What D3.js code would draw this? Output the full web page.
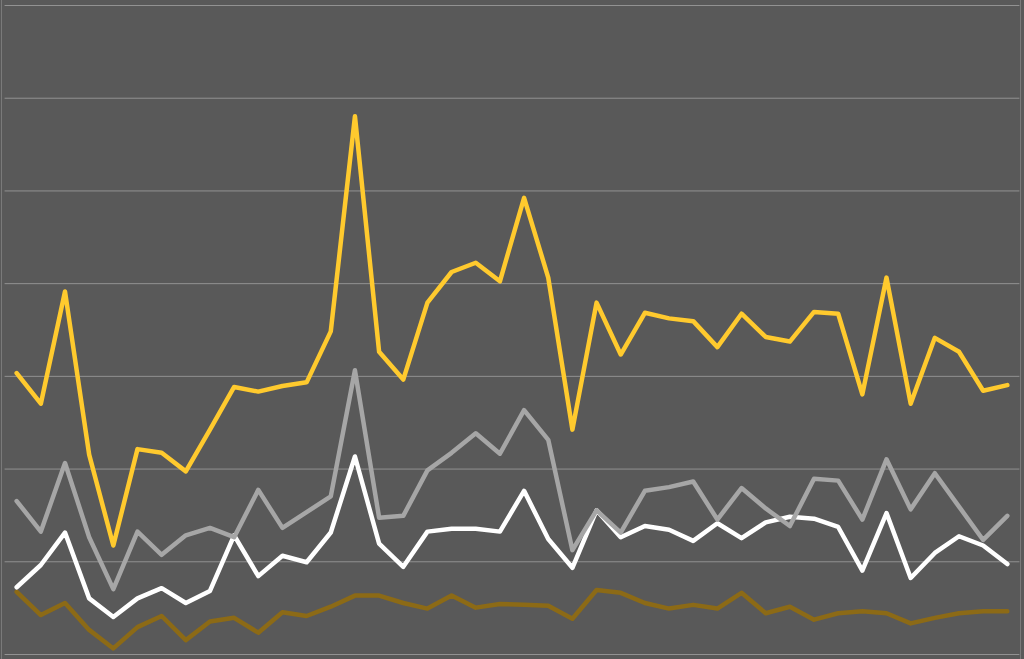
<!DOCTYPE html>
<html>
<head>
<meta charset="utf-8">
<script src="https://cdn.jsdelivr.net/npm/d3@7/dist/d3.min.js"></script>
<style>
  html, body { margin: 0; padding: 0; background: #595959; }
  svg { display: block; }
</style>
</head>
<body>
<div></div>
<script>
let svgWidth = 1024;
let svgHeight = 659;

// categories (no labels shown on the chart)
let categories = [1,2,3,4,5,6,7,8,9,10,11,12,13,14,15,16,17,18,19,20,21,
                  22,23,24,25,26,27,28,29,30,31,32,33,34,35,36,37,38,39,40,41,42];
let yTicks = [0,10,20,30,40,50,60,70];

let yellowValues = [30.3,27.0,39.1,21.5,11.7,22.1,21.7,19.7,24.2,28.8,28.3,28.9,29.3,34.8,58.0,
                    32.6,29.6,37.9,41.2,42.2,40.2,49.2,40.6,24.2,37.9,32.3,36.8,36.2,35.9,33.1,
                    36.7,34.2,33.7,36.9,36.7,28.0,40.6,27.0,34.1,32.6,28.4,29.0];
let grayValues   = [16.5,13.2,20.6,12.6,7.0,13.2,10.7,12.8,13.6,12.6,17.7,13.6,15.3,17.0,30.6,
                    14.7,14.9,19.8,21.7,23.8,21.6,26.3,23.1,11.2,15.5,13.1,17.6,18.0,18.6,14.5,
                    17.9,15.7,13.8,18.9,18.7,14.5,21.0,15.6,19.5,15.9,12.3,14.9];
let whiteValues  = [7.2,9.6,13.1,6.0,4.0,6.0,7.1,5.5,6.8,12.8,8.4,10.6,9.9,13.1,21.3,
                    11.9,9.4,13.2,13.5,13.5,13.2,17.6,12.4,9.3,15.5,12.6,13.8,13.4,12.2,14.1,
                    12.5,14.2,14.8,14.6,13.7,9.0,15.2,8.2,10.9,12.7,11.7,9.7];
let brownValues  = [6.7,4.2,5.5,2.6,0.6,2.9,4.1,1.5,3.5,3.9,2.3,4.5,4.1,5.1,6.3,
                    6.3,5.5,4.9,6.3,5.0,5.4,5.3,5.2,3.8,6.9,6.6,5.5,4.9,5.3,4.9,
                    6.6,4.4,5.1,3.7,4.4,4.6,4.4,3.3,3.9,4.4,4.6,4.6];

let series = [
  {values: brownValues,  color: "#8C6A16"},
  {values: whiteValues,  color: "#FFFFFF"},
  {values: grayValues,   color: "#A6A6A6"},
  {values: yellowValues, color: "#FFCA2E"}
];

let plotLeft = 4.6, plotRight = 1019.4, plotTop = 5, plotBottom = 654;

let svg = d3.select("body div")
    .append("svg")
    .attr("width", svgWidth)
    .attr("height", svgHeight);

svg.append("rect")
    .attr("width", svgWidth)
    .attr("height", svgHeight)
    .attr("fill", "#595959");

let x = d3.scalePoint()
    .domain(categories)
    .range([plotLeft, plotRight])
    .padding(0.5);

let y = d3.scaleLinear()
    .domain([0, 70])
    .range([plotBottom, plotTop]);

// horizontal gridlines
let grid = svg.append("g")
    .attr("transform", "translate(" + plotLeft + ",0)")
    .call(d3.axisLeft(y)
        .tickValues(yTicks)
        .tickSize(-(plotRight - plotLeft))
        .tickFormat(""));
grid.select(".domain").remove();
grid.selectAll(".tick line")
    .attr("stroke", "#929292")
    .attr("stroke-width", 1);

// chart edges
svg.append("line")
    .attr("x1", 1.5).attr("x2", 1.5)
    .attr("y1", 0).attr("y2", svgHeight)
    .attr("stroke", "#7A7A7A");
svg.append("line")
    .attr("x1", 1020.5).attr("x2", 1020.5)
    .attr("y1", 0).attr("y2", svgHeight)
    .attr("stroke", "#7A7A7A");

let line = d3.line()
    .x((d, i) => x(categories[i]))
    .y(d => y(d));

for (let s of series) {
  svg.append("path")
      .datum(s.values)
      .attr("d", line)
      .attr("fill", "none")
      .attr("stroke", s.color)
      .attr("stroke-width", 4.5)
      .attr("stroke-linejoin", "round")
      .attr("stroke-linecap", "round");
}
</script>
</body>
</html>
